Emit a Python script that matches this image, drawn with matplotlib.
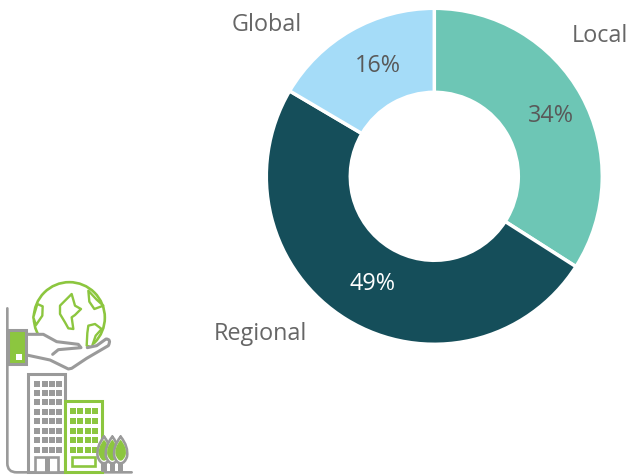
import numpy as np
import matplotlib
matplotlib.use("Agg")
import matplotlib.pyplot as plt
from matplotlib.patches import Circle, Rectangle, PathPatch, Polygon
from matplotlib.path import Path

labels = ["Local", "Regional", "Global"]
values = [34, 49.4, 16.5]
pct_labels = ["34%", "49%", "16%"]
colors = ["#6dc6b5", "#154e5a", "#a5dcf8"]

W, H = 629, 475
plt.rcParams['font.family'] = ['Open Sans', 'DejaVu Sans']

fig = plt.figure(figsize=(W / 100, H / 100), dpi=100)

# donut
cx, cy, r = 434.3, 176.3, 168
ax = fig.add_axes([(cx - r) / W, 1 - (cy + r) / H, 2 * r / W, 2 * r / H])
wedges, _ = ax.pie(values, colors=colors, startangle=90, counterclock=False, radius=1,
                   wedgeprops=dict(width=0.50, edgecolor="white", linewidth=2.5))
ax.set_xlim(-1, 1)
ax.set_ylim(-1, 1)

# everything else in pixel coords
bg = fig.add_axes([0, 0, 1, 1], facecolor="none")
bg.set_xlim(0, W)
bg.set_ylim(H, 0)
bg.axis("off")

fs = 16.8
bg.text(599.5, 36, labels[0], fontsize=fs, color="#666666", ha="center", va="center")
bg.text(260, 334.5, labels[1], fontsize=fs, color="#666666", ha="center", va="center")
bg.text(266.5, 25, labels[2], fontsize=fs, color="#666666", ha="center", va="center")
bg.text(551, 116, pct_labels[0], fontsize=fs, color="#595959", ha="center", va="center")
bg.text(373, 283.5, pct_labels[1], fontsize=fs, color="white", ha="center", va="center")
bg.text(378, 66, pct_labels[2], fontsize=fs, color="#595959", ha="center", va="center")

# icon, points taken from the 3x crop
green = "#8cc63f"
grey = "#9a9a9a"
lw = 1.9


def z(x, y):
    return x / 3, 275 + y / 3


def box(x0, y0, x1, y1, **kw):
    p0 = z(x0, y0)
    p1 = z(x1, y1)
    bg.add_patch(Rectangle(p0, p1[0] - p0[0], p1[1] - p0[1], **kw))


def poly(pts, **kw):
    bg.add_patch(Polygon([z(*p) for p in pts], joinstyle="round", **kw))


def curve(pts, codes, **kw):
    bg.add_patch(PathPatch(Path([z(*p) for p in pts], codes), capstyle="round", joinstyle="round", **kw))


# globe
bg.add_patch(Circle(z(208, 128), 35.5, fc="white", ec=green, lw=lw))
land = dict(fc="white", ec=green, lw=lw - 0.2)
poly([(180, 92), (195, 77), (215, 57), (225, 92), (243, 102), (225, 120), (215, 127), (220, 162),
      (205, 160), (195, 142), (180, 117)], **land)
poly([(112, 87), (128, 94), (127, 122), (108, 150), (100, 127)], **land)
poly([(265, 47), (290, 74), (310, 92), (283, 102), (268, 80)], **land)
poly([(265, 152), (285, 147), (305, 162), (287, 182), (275, 217), (260, 212), (262, 174)], **land)

# hand
M, L, C = Path.MOVETO, Path.LINETO, Path.CURVE3
bg.add_patch(Polygon([z(x, y) for x, y in [(80, 178), (130, 178), (170, 200), (235, 212), (262, 218),
                                            (320, 192), (330, 205), (215, 282), (150, 255), (80, 240)]],
                     fc="white", ec="none"))
curve([(80, 178), (130, 178), (170, 200), (235, 208), (243, 218), (175, 224), (158, 238)],
      [M, L, L, L, L, L, L], fc="none", ec=grey, lw=lw + 0.3)
curve([(262, 218), (290, 212), (318, 192), (335, 192), (325, 212), (260, 250), (215, 280), (205, 282),
       (150, 255), (80, 240)],
      [M, L, L, C, C, L, L, L, L, L], fc="none", ec=grey, lw=lw + 0.3)

# wall and ground
curve([(22, 100), (22, 565), (22, 592), (50, 592), (395, 592)], [M, L, C, C, L], fc="none", ec=grey, lw=lw)

# cuff
box(25, 165, 78, 268, fc=green, ec=grey, lw=lw + 0.3)
box(48, 237, 66, 255, fc="white", ec="none")

# grey tower
box(85, 298, 195, 592, fc="white", ec=grey, lw=lw + 0.3)
for yy in [318, 345, 372, 402, 430, 460, 487, 516]:
    for xx in [103, 125, 148, 168]:
        box(xx, yy, xx + 18, yy + 18, fc=grey, ec="none")
box(105, 545, 175, 592, fc="white", ec=grey, lw=lw)
box(135, 545, 150, 592, fc=grey, ec="none")

# green block
box(195, 378, 305, 592, fc="white", ec=green, lw=lw + 0.3)
for yy in [400, 430, 458, 487, 516]:
    for xx in [210, 232, 254, 276]:
        box(xx, yy, xx + 18, yy + 18, fc=green, ec="none")
box(215, 545, 285, 572, fc="white", ec=green, lw=lw)

# trees
for xx in [312, 337, 362]:
    box(xx - 8, 550, xx + 8, 592, fc=grey, ec="none")
    curve([(xx, 485), (xx + 24, 515), (xx + 19, 545), (xx + 12, 565), (xx, 565), (xx - 12, 565),
           (xx - 19, 545), (xx - 24, 515), (xx, 485)],
          [M, C, C, C, C, C, C, C, C], fc="white", ec=grey, lw=lw)
    curve([(xx, 494), (xx + 20, 518), (xx + 15, 540), (xx + 9, 557), (xx, 557), (xx - 9, 557),
           (xx - 15, 540), (xx - 20, 518), (xx, 494)],
          [M, C, C, C, C, C, C, C, C], fc=green, ec="none")

fig.savefig("out.png", dpi=100)
